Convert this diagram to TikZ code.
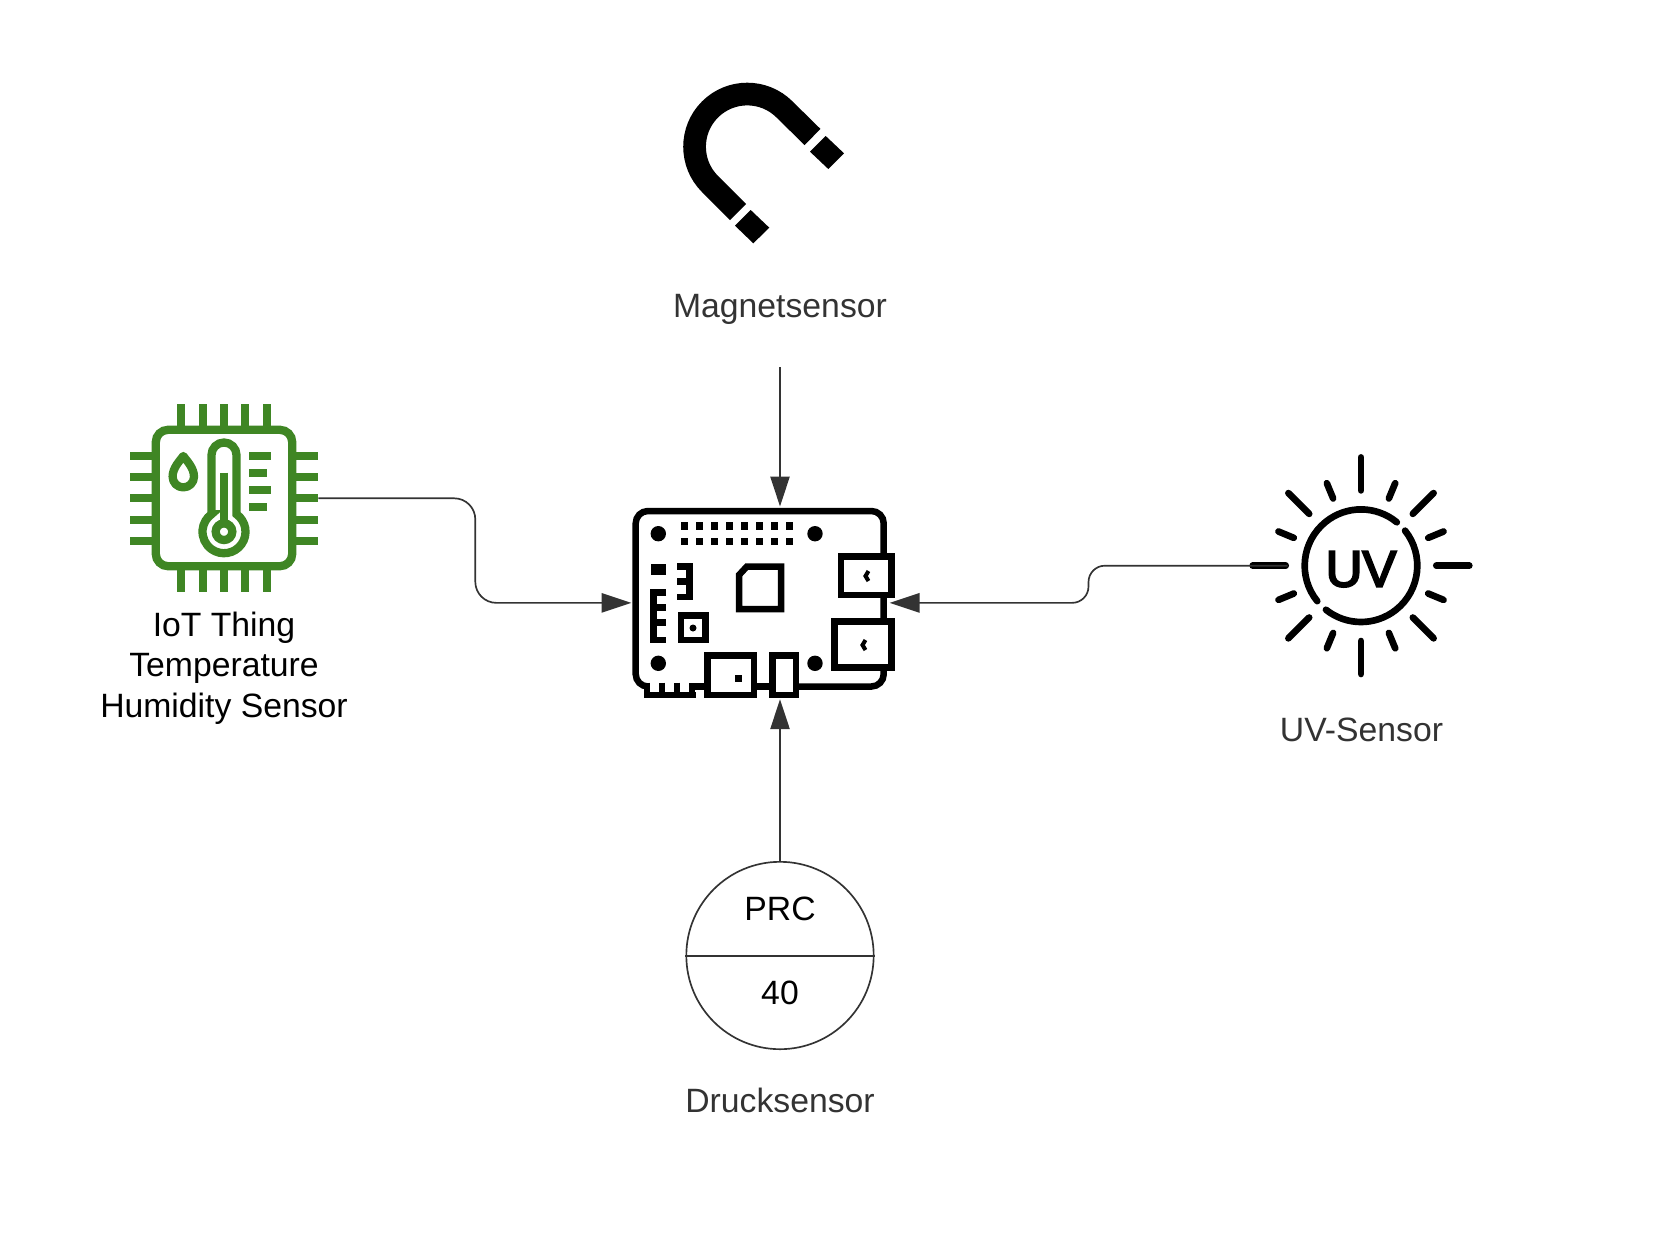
\documentclass[tikz,border=0pt]{standalone}
\usepackage{fontspec}
\setmainfont{Liberation Sans}
\newfontfamily\uvfont[FakeBold=4]{Liberation Sans}
\usepackage{xcolor}
\usetikzlibrary{arrows.meta}
\definecolor{chipgreen}{HTML}{3F8624}
\definecolor{wiregray}{HTML}{333333}
\tikzset{
  wire/.style = {draw=wiregray, line width=0.95pt},
  sensorarrow/.style = {wire, -{Triangle[length=17pt,width=11pt,color=wiregray]}},
  sensorlabel/.style = {anchor=base, inner sep=0pt, text=wiregray, font=\fontsize{19.2}{23}\selectfont},
  chiplabel/.style = {anchor=base, inner sep=0pt, align=center, font=\fontsize{19.2}{23}\selectfont},
  anchorbox/.style = {inner sep=0pt, minimum width=#1},
  chipline/.style = {draw=chipgreen, line width=4.72pt},
  boardline/.style = {draw=black, line width=3.7pt},
  ray/.style = {draw=black, line width=3.8pt, line cap=round}
}

\begin{document}
\begin{tikzpicture}[x=0.02cm,y=-0.02cm]
  \useasboundingbox (0,0) rectangle (1661,1238);

  % anchors of the icons
  \node[anchorbox=3.76cm, minimum height=3.76cm] (chip) at (224,498.3) {};
  \node[anchorbox=5.152cm, minimum height=3.846cm] (board) at (760.5,602.85) {};
  \node[anchorbox=2.92cm, minimum height=2.92cm] (uv) at (1361,565.7) {};
  \coordinate (magnetout) at (780,367.3);

  % magnet
  \draw[line width=12.9pt] (738,212) -- (710,184) arc (135:315:52.7) -- (812.5,137);
  \fill (735,225.7) -- (750.7,210) -- (769.3,227.7) -- (753.3,243.3) -- cycle;
  \fill (810,151.7) -- (825.7,136) -- (844,153.3) -- (828.3,169) -- cycle;
  \node[sensorlabel] (magnetlabel) at (780,317.5) {Magnetsensor};

  % chip with thermometer
  \draw[chipline, rounded corners=7pt] (155.8,429.8) rectangle (292.2,566.2);
  \foreach \i in {181.3,202.7,224,245.3,266.7} {
    \draw[chipline] (\i,404.3) -- (\i,430);
    \draw[chipline] (\i,566) -- (\i,592);
  }
  \foreach \j in {455.7,477,498.3,519.7,541} {
    \draw[chipline] (130,\j) -- (156,\j);
    \draw[chipline] (292,\j) -- (318,\j);
  }
  \draw[chipline] (211.5,514.2) -- (211.5,455) arc (180:360:12.5) -- (236.5,514.2)
    arc (-54.5:234.5:21.5) -- cycle;
  \draw[chipline] (224,472.7) -- (224,525);
  \draw[chipline] (224,531.7) circle (8.33);
  \draw[chipline, line join=round] (183.3,456) .. controls (187,461) and (194,468) .. (194,476.7)
    arc (0:180:10.7) .. controls (172.6,468) and (179.6,461) .. cycle;
  \draw[chipline] (249.3,455.7) -- (271,455.7);
  \draw[chipline] (249.3,472.7) -- (266.7,472.7);
  \draw[chipline] (249.3,489.7) -- (271,489.7);
  \draw[chipline] (249.3,506.7) -- (266.7,506.7);
  \node[chiplabel] (chiplabel) at (224,636) {IoT Thing};
  \node[chiplabel] (chiplabelb) at (224,676.5) {Temperature};
  \node[chiplabel] (chiplabelc) at (224,717) {Humidity Sensor};

  % board
  \draw[boardline, rounded corners=7pt] (647,686.5) -- (635.7,686.5) -- (635.7,511)
    -- (883.7,511) -- (883.7,686.5) -- (692,686.5);
  \draw[boardline, fill=white] (841,556.7) rectangle (891.7,595);
  \draw[boardline, fill=white] (834.3,621.7) rectangle (891.7,667.7);
  \draw[boardline, fill=white] (707.7,655.7) rectangle (754,695);
  \draw[boardline, fill=white] (772.7,655.7) rectangle (796,695);
  \draw[line width=2.3pt] (868.5,571) -- (865.5,576) -- (868.5,581);
  \draw[line width=2.3pt] (865.5,640) -- (862.5,645) -- (865.5,650);
  \fill (735.2,675.2) rectangle (742.2,682.2);
  \foreach \i in {658.3,815} {
    \foreach \j in {533.7,663.3} {
      \fill (\i,\j) circle (7.7);
    }
  }
  \foreach \i in {684.3,699.3,...,790} {
    \fill (\i-3.8,522.2) rectangle (\i+3.8,529.8);
    \fill (\i-3.8,537.5) rectangle (\i+3.8,545.1);
  }
  \draw[boardline] (739,575) -- (746.7,566.7) -- (781,566.7) -- (781,609) -- (739,609) -- cycle;
  \fill (650.7,564) rectangle (666,574.7);
  \draw[boardline] (677.3,566.3) -- (689.7,566.3) -- (689.7,597) -- (677.3,597);
  \draw[boardline] (677.3,581.7) -- (689.7,581.7);
  \draw[boardline] (666,592.3) -- (653.7,592.3) -- (653.7,640) -- (666,640);
  \draw[boardline] (653.7,607.3) -- (666,607.3);
  \draw[boardline] (653.7,622.7) -- (666,622.7);
  \draw[boardline] (681,615.7) rectangle (705.3,640);
  \fill (693,628) circle (3.5);
  \draw[boardline] (647,682.5) -- (647,695.2) -- (692,695.2) -- (692,682.5);
  \draw[boardline] (662,682.5) -- (662,695.2);
  \draw[boardline] (677,682.5) -- (677,695.2);
  \draw[boardline] (644,695.2) -- (695.7,695.2);
  \draw[boardline] (692,686.5) -- (707.7,686.5);
  \draw[boardline] (754,686.5) -- (772.7,686.5);

  % sun
  \foreach \a in {0,90,180,270} {
    \draw[ray] (uv.center) ++(\a:75.3) -- ++(\a:33);
  }
  \foreach \a in {45,135,225,315} {
    \draw[ray] (uv.center) ++(\a:73.3) -- ++(\a:29.4);
  }
  \foreach \a in {22.5,67.5,...,360} {
    \draw[ray] (uv.center) ++(\a:72.8) -- ++(\a:16.5);
  }
  \draw[ray] (uv.center) ++(-38.5:56.3) arc (-38.5:128.5:56.3);
  \draw[ray] (uv.center) ++(141:56.3) arc (141:309.5:56.3);
  \node[anchor=base, inner sep=0pt, font=\uvfont\fontsize{29}{29}\selectfont] (uvtext) at (1361,586.5) {UV};
  \node[sensorlabel] (uvlabel) at (1361.5,741) {UV-Sensor};

  % pressure gauge
  \node[circle, wire, fill=white, inner sep=0pt, minimum size=3.748cm] (press) at (780,955.5) {};
  \draw[wire, line width=1.15pt] (press.west) -- (press.east);
  \node[chiplabel] (prc) at (780,920.3) {PRC};
  \node[chiplabel] (prcvalue) at (780,1004.5) {40};
  \node[sensorlabel] (presslabel) at (780,1112.5) {Drucksensor};

  % connectors
  \draw[sensorarrow] (magnetout) -- (magnetout |- board.north);
  \draw[sensorarrow] (press.north) -- (press.north |- board.south);
  \draw[sensorarrow, rounded corners=12pt] (chip.east) -- (475.3,498.3) -- (475.3,602.85) -- (board.west);
  \draw[sensorarrow, rounded corners=9.3pt] (uv.west) -- (1088.5,565.7) -- (1088.5,602.85) -- (board.east);
\end{tikzpicture}
\end{document}
